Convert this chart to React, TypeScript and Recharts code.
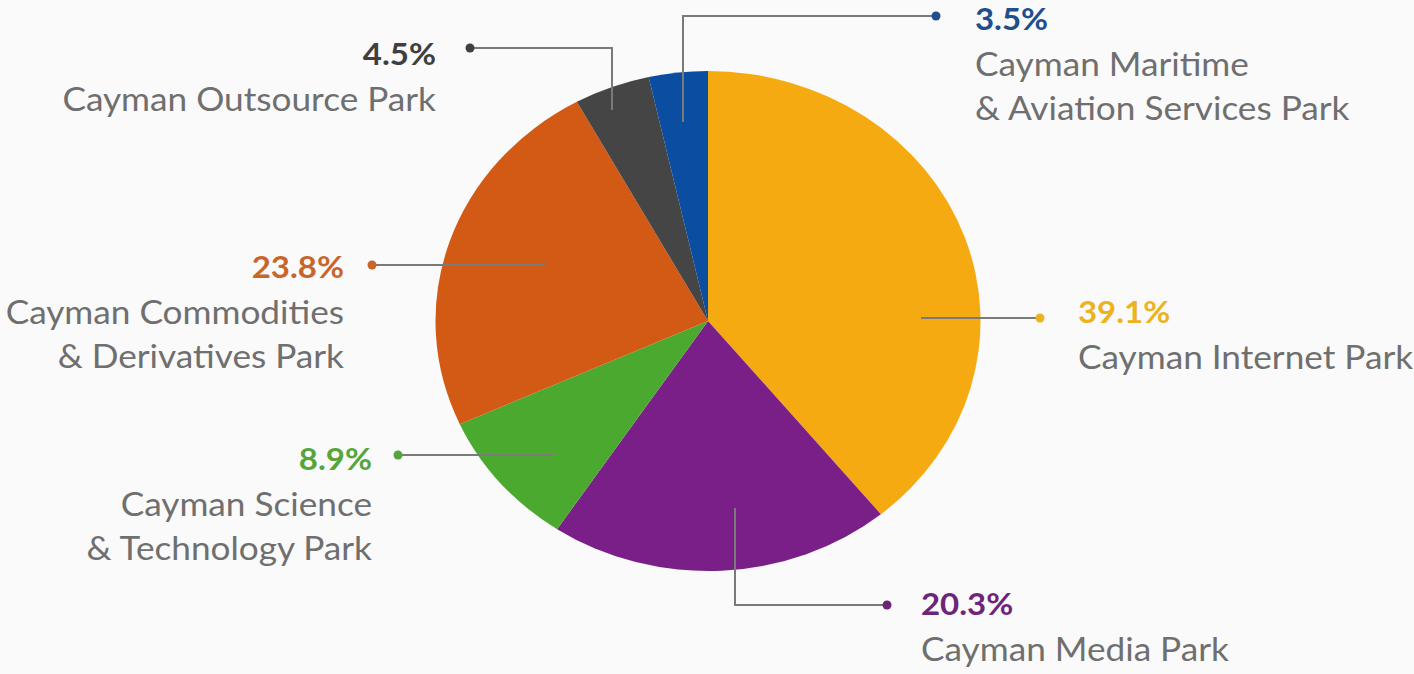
import React from 'react';
import { PieChart, Pie, Cell } from 'recharts';

// ---- data ----
const parkNames = [
  'Cayman Internet Park',
  'Cayman Media Park',
  'Cayman Science & Technology Park',
  'Cayman Commodities & Derivatives Park',
  'Cayman Outsource Park',
  'Cayman Maritime & Aviation Services Park',
];
const nameLines: string[][] = [
  ['Cayman Internet Park'],
  ['Cayman Media Park'],
  ['Cayman Science', '& Technology Park'],
  ['Cayman Commodities', '& Derivatives Park'],
  ['Cayman Outsource Park'],
  ['Cayman Maritime', '& Aviation Services Park'],
];
const shares = [39.1, 20.3, 8.9, 23.8, 4.5, 3.5];
const sliceColors = ['#F5AA12', '#7A1F87', '#4CA930', '#D25A14', '#454545', '#0B4DA0'];
const pctColors = ['#EDB21E', '#6E2479', '#56A53A', '#C8662A', '#3F3F3F', '#1E4E8C'];

// ---- layout (label leader routes, offsets relative to pie centre) ----
type LabelLayout = { path: number[][]; anchor: 'start' | 'end'; tx: number; ty: number };
const labelLayout: LabelLayout[] = [
  { path: [[213, -3], [332, -3]], anchor: 'start', tx: 370, ty: 2 },
  { path: [[27, 187], [27, 284], [179, 284]], anchor: 'start', tx: 213, ty: 294 },
  { path: [[-155, 134], [-310, 134]], anchor: 'end', tx: -336, ty: 149 },
  { path: [[-163, -56], [-336, -56]], anchor: 'end', tx: -364, ty: -43 },
  { path: [[-96, -211], [-96, -273], [-238, -273]], anchor: 'end', tx: -272, ty: -256 },
  { path: [[-25, -199], [-25, -305], [228, -305]], anchor: 'start', tx: 267, ty: -291 },
];

const X_STRETCH = 1.09;
const TEXT_STRETCH = 1.1;
const FONT = 'Lato, "Noto Sans", sans-serif';

const data = parkNames.map((name, i) => ({ name, value: shares[i] }));

const RAD = Math.PI / 180;

const EllipseSector = (props: any) => {
  const { cx, cy, outerRadius, startAngle, endAngle, fill } = props;
  const rx = outerRadius * X_STRETCH;
  const ry = outerRadius;
  const p = (a: number) => [cx + rx * Math.cos(a * RAD), cy - ry * Math.sin(a * RAD)];
  const [x1, y1] = p(startAngle);
  const [x2, y2] = p(endAngle);
  const delta = Math.abs(endAngle - startAngle);
  const large = delta > 180 ? 1 : 0;
  const sweep = endAngle < startAngle ? 1 : 0;
  const d = `M${cx},${cy} L${x1},${y1} A${rx},${ry} 0 ${large} ${sweep} ${x2},${y2} Z`;
  return <path d={d} fill={fill} stroke="none" />;
};

const renderLabel = (props: any) => {
  const { cx, cy, index } = props;
  const lay = labelLayout[index];
  const pts = lay.path.map(([dx, dy]) => [cx + dx, cy + dy]);
  const last = pts[pts.length - 1];
  const tx = cx + lay.tx;
  const ty = cy + lay.ty;
  const lines = nameLines[index];
  const stretch = `translate(${tx},0) scale(${TEXT_STRETCH},1) translate(${-tx},0)`;
  return (
    <g key={`lbl-${index}`}>
      <polyline
        points={pts.map((q) => q.join(',')).join(' ')}
        fill="none"
        stroke="#7a7a7a"
        strokeWidth={2}
      />
      <circle cx={last[0]} cy={last[1]} r={4.5} fill={pctColors[index]} />
      <g transform={stretch}>
        <text
          x={tx}
          y={ty}
          textAnchor={lay.anchor}
          fontFamily={FONT}
          fontWeight={700}
          fontSize={30}
          fill={pctColors[index]}
        >
          {`${shares[index].toFixed(1)}%`}
        </text>
        {lines.map((ln, j) => (
          <text
            key={j}
            x={tx}
            y={ty + 46 + j * 44}
            textAnchor={lay.anchor}
            fontFamily={FONT}
            fontSize={32}
            fill="#6f6f6f"
          >
            {ln}
          </text>
        ))}
      </g>
    </g>
  );
};

export default function App() {
  return (
    <div style={{ position: 'absolute', left: 0, top: 0, width: 1414, height: 674, background: '#fafafa' }}>
      <PieChart width={1414} height={674} margin={{ top: 0, right: 0, bottom: 0, left: 0 }}>
        <Pie
          data={data}
          dataKey="value"
          nameKey="name"
          cx={708}
          cy={321}
          outerRadius={250}
          startAngle={90}
          endAngle={-270}
          stroke="none"
          shape={EllipseSector}
          label={renderLabel}
          labelLine={false}
          isAnimationActive={false}
        >
          {data.map((d, i) => (
            <Cell key={d.name} fill={sliceColors[i]} />
          ))}
        </Pie>
      </PieChart>
    </div>
  );
}
